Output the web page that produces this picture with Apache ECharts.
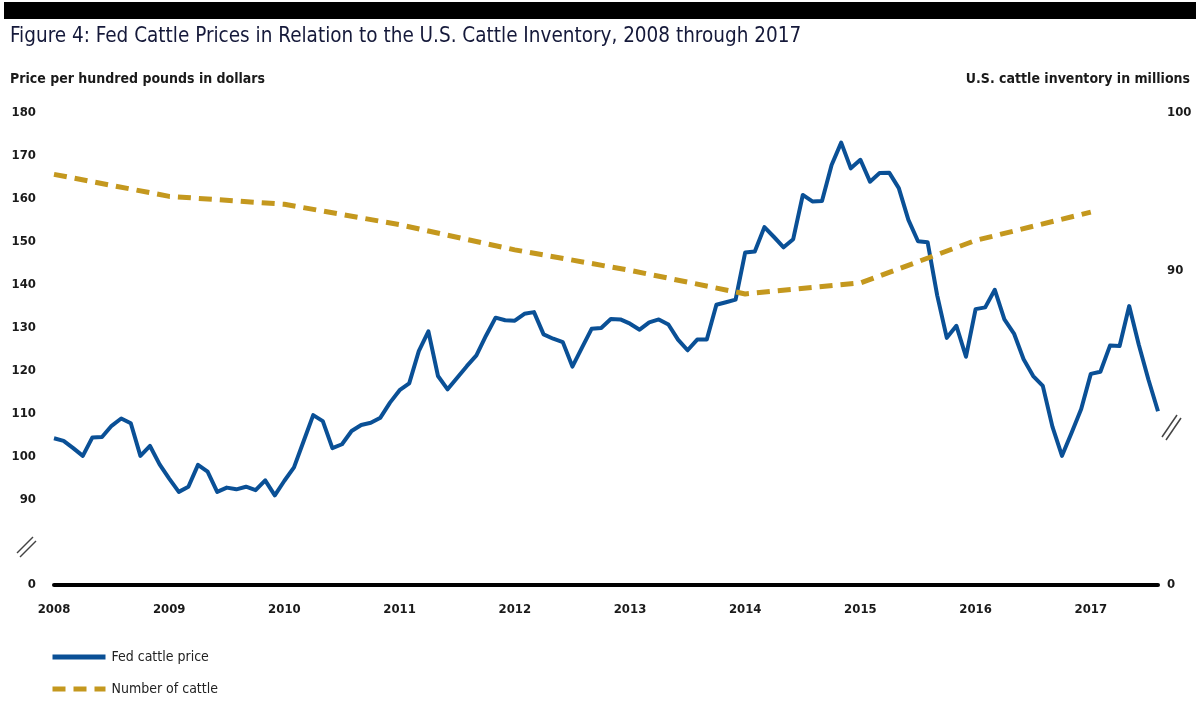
<!DOCTYPE html>
<html><head><meta charset="utf-8">
<script src="https://cdn.jsdelivr.net/npm/echarts@6/dist/echarts.min.js"></script>
<style>html,body{margin:0;padding:0;background:#fff}#c{width:1200px;height:702px}</style>
</head><body><div id="c"></div>
<script>
// Monthly fed cattle price, Jan 2008 - Aug 2017 ($ per cwt)
const priceValues = [
  104.2, 103.6, 101.9, 100.1, 104.4, 104.5, 107.1, 108.8, 107.7, 100.1, 102.4, 98.1,   // 2008
  94.8, 91.7, 92.9, 98.0, 96.4, 91.7, 92.7, 92.3, 92.9, 92.1, 94.4, 90.9,             // 2009
  94.3, 97.4, 103.5, 109.6, 108.2, 101.9, 102.8, 105.9, 107.3, 107.8, 109.0, 112.5,   // 2010
  115.4, 117.0, 124.5, 129.1, 118.7, 115.6, 118.3, 121.0, 123.5, 128.1, 132.3, 131.7, // 2011
  131.6, 133.2, 133.6, 128.4, 127.4, 126.6, 120.9, 125.3, 129.7, 129.9, 132.0, 131.9, // 2012
  130.9, 129.5, 131.2, 131.9, 130.7, 127.2, 124.7, 127.2, 127.2, 135.3, 135.9, 136.5, // 2013
  147.5, 147.7, 153.4, 151.1, 148.7, 150.6, 160.9, 159.4, 159.5, 167.9, 173.1, 167.1, // 2014
  169.1, 164.0, 166.0, 166.1, 162.5, 155.1, 150.1, 149.9, 137.5, 127.6, 130.4, 123.2, // 2015
  134.3, 134.7, 138.8, 131.9, 128.6, 122.6, 118.7, 116.4, 106.9, 100.1, 105.5, 111.0, // 2016
  119.2, 119.7, 125.8, 125.7, 135.0, 126.0, 117.9, 110.5                              // 2017
];
// January 1 cattle inventory (millions)
const cattleYears = [2008, 2009, 2010, 2011, 2012, 2013, 2014, 2015, 2016, 2017];
const cattleValues = [96.1, 94.7, 94.2, 92.9, 91.3, 90.0, 88.5, 89.2, 91.9, 93.7];
const startYear = 2008;
const yearLabels = ['2008','2009','2010','2011','2012','2013','2014','2015','2016','2017'];

const FONT = "'Liberation Sans Narrow', 'Arial Narrow', 'DejaVu Sans Condensed', sans-serif";

const priceData = priceValues.map((v, i) => [i, v]);
const cattleData = cattleValues.map((v, i) => [(cattleYears[i] - startYear) * 12, v]);

const chart = echarts.init(document.getElementById('c'), null, {renderer: 'canvas'});
chart.setOption({
  animation: false,
  backgroundColor: '#fff',
  title: [
    {text: 'Figure 4: Fed Cattle Prices in Relation to the U.S. Cattle Inventory, 2008 through 2017',
     left: 10, top: 26, padding: 0,
     textStyle: {fontFamily: FONT, fontSize: 20.5, fontWeight: 'normal', color: '#15193a'}},
    {text: 'Price per hundred pounds in dollars', left: 10, top: 72, padding: 0,
     textStyle: {fontFamily: FONT, fontSize: 14, fontWeight: 'bold', color: '#1a1a1a'}},
    {text: 'U.S. cattle inventory in millions', right: 10, top: 72, padding: 0,
     textStyle: {fontFamily: FONT, fontSize: 14, fontWeight: 'bold', color: '#1a1a1a'}}
  ],
  grid: {left: 54, right: 42, top: 113, bottom: 117, containLabel: false, outerBoundsMode: 'none'},
  xAxis: {
    type: 'value', min: 0, max: 115, interval: 12,
    axisLine: {onZero: false, lineStyle: {color: '#000', width: 4}},
    axisTick: {show: false}, splitLine: {show: false},
    axisLabel: {
      margin: 18, fontFamily: FONT, fontSize: 13, fontWeight: 'bold', color: '#1a1a1a',
      formatter: v => yearLabels[Math.round(v / 12)] || ''
    }
  },
  yAxis: [
    {type: 'value', min: 70, max: 180, interval: 10, position: 'left',
     axisLine: {show: false}, axisTick: {show: false}, splitLine: {show: false},
     axisLabel: {margin: 18, fontFamily: FONT, fontSize: 13, fontWeight: 'bold', color: '#1a1a1a',
       formatter: v => v === 70 ? '0' : (v === 80 ? '' : String(v))}},
    {type: 'value', min: 70, max: 100, interval: 10, position: 'right',
     axisLine: {show: false}, axisTick: {show: false}, splitLine: {show: false},
     axisLabel: {margin: 9, fontFamily: FONT, fontSize: 13, fontWeight: 'bold', color: '#1a1a1a',
       formatter: v => v === 70 ? '0' : (v === 80 ? '' : String(v))}}
  ],
  legend: {
    orient: 'vertical', left: 50, top: 650, padding: 0,
    itemWidth: 53, itemHeight: 14, itemGap: 18,
    itemStyle: {opacity: 0},
    lineStyle: {width: 5},
    textStyle: {fontFamily: FONT, fontSize: 14, color: '#222', padding: [0, 0, 0, 1]},
    data: ['Fed cattle price', 'Number of cattle']
  },
  series: [
    {name: 'Fed cattle price', type: 'line', data: priceData, xAxisIndex: 0, yAxisIndex: 0,
     symbol: 'none', clip: false, lineStyle: {color: '#0a5096', width: 4, join: 'round'},
     itemStyle: {color: '#0a5096'}},
    {name: 'Number of cattle', type: 'line', data: cattleData, xAxisIndex: 0, yAxisIndex: 1,
     symbol: 'none', clip: false, lineStyle: {color: '#c4981e', width: 5, type: [13, 8], cap: 'butt'},
     itemStyle: {color: '#c4981e'}}
  ],
  graphic: [
    {type: 'rect', left: 4, top: 2, shape: {width: 1192, height: 17}, style: {fill: '#000'}},
    {type: 'line', shape: {x1: 17, y1: 553, x2: 33, y2: 537}, style: {stroke: '#444', lineWidth: 1.5}},
    {type: 'line', shape: {x1: 20, y1: 557, x2: 36, y2: 541}, style: {stroke: '#444', lineWidth: 1.5}},
    {type: 'line', shape: {x1: 1162, y1: 437, x2: 1177, y2: 415}, style: {stroke: '#444', lineWidth: 1.5}},
    {type: 'line', shape: {x1: 1166, y1: 440, x2: 1181, y2: 418}, style: {stroke: '#444', lineWidth: 1.5}}
  ]
});
</script></body></html>
